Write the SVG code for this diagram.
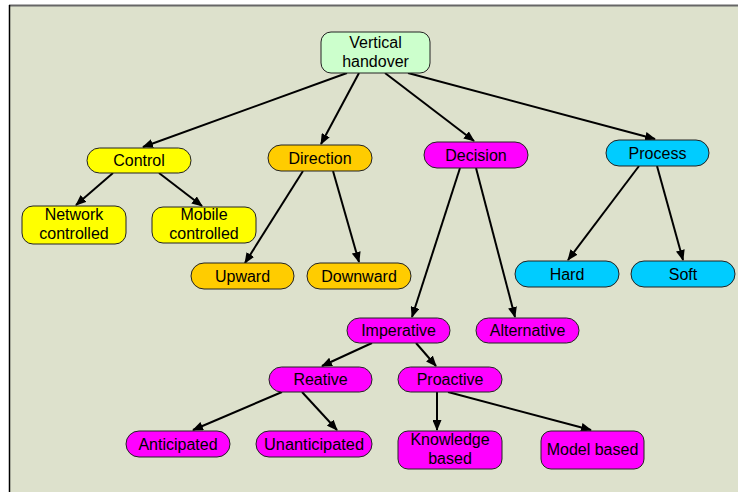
<svg xmlns="http://www.w3.org/2000/svg" width="738" height="492" viewBox="0 0 738 492">
<defs>
<marker id="ah" markerWidth="11" markerHeight="9" refX="10" refY="4.5" orient="auto" markerUnits="userSpaceOnUse">
<path d="M0,0 L11,4.5 L0,9 z" fill="#000"/>
</marker>
<style>
.n rect{stroke:#222;stroke-width:1}
.n text{font-family:"Liberation Sans",Arial,sans-serif;font-size:16px;fill:#000;text-anchor:middle}
.g{fill:#CCFFCC}.y{fill:#FFFF00}.o{fill:#FFCC00}.m{fill:#FF00FF}.c{fill:#00CCFF}
#edges line{stroke:#000;stroke-width:2;marker-end:url(#ah)}
</style>
</defs>
<rect x="0" y="0" width="738" height="492" fill="#fff"/>
<rect x="10" y="6" width="728" height="486" fill="#DDE1CC"/>
<line x1="9" y1="5.5" x2="738" y2="5.5" stroke="#666" stroke-width="2"/>
<line x1="9.5" y1="5" x2="9.5" y2="492" stroke="#000" stroke-width="1.5"/>
<g id="edges">
<line x1="347" y1="73" x2="143" y2="147"/>
<line x1="359" y1="73" x2="321" y2="144"/>
<line x1="385" y1="73" x2="474" y2="141"/>
<line x1="408" y1="73" x2="655" y2="139"/>
<line x1="113" y1="173" x2="76" y2="205"/>
<line x1="159" y1="173" x2="202" y2="206"/>
<line x1="303" y1="171" x2="245" y2="263"/>
<line x1="333" y1="171" x2="359" y2="262"/>
<line x1="460" y1="168" x2="412" y2="317"/>
<line x1="476" y1="168" x2="515" y2="317"/>
<line x1="639" y1="166" x2="568" y2="260"/>
<line x1="657" y1="166" x2="683" y2="260"/>
<line x1="372" y1="343" x2="322" y2="366"/>
<line x1="416" y1="343" x2="436" y2="366"/>
<line x1="282" y1="392" x2="193" y2="430"/>
<line x1="302" y1="392" x2="337" y2="430"/>
<line x1="437" y1="392" x2="437" y2="430"/>
<line x1="448" y1="392" x2="591" y2="430"/>
</g>
<g id="vertical-handover" class="n"><rect class="g" x="321" y="32" width="109" height="41" rx="10"/><text x="375.5" y="48">Vertical</text><text x="375.5" y="67">handover</text></g>
<g id="control" class="n"><rect class="y" x="87" y="148" width="104" height="25" rx="12.5"/><text x="139" y="165.5">Control</text></g>
<g id="direction" class="n"><rect class="o" x="268" y="145" width="104" height="26" rx="13"/><text x="320" y="163.5">Direction</text></g>
<g id="decision" class="n"><rect class="m" x="424" y="142" width="104" height="26" rx="13"/><text x="476" y="160.5">Decision</text></g>
<g id="process" class="n"><rect class="c" x="606" y="140" width="103" height="26" rx="13"/><text x="657.5" y="158.5">Process</text></g>
<g id="network-controlled" class="n"><rect class="y" x="22" y="206" width="104" height="38" rx="11"/><text x="74" y="220">Network</text><text x="74" y="239">controlled</text></g>
<g id="mobile-controlled" class="n"><rect class="y" x="152" y="207" width="104" height="36" rx="11"/><text x="204" y="220">Mobile</text><text x="204" y="239">controlled</text></g>
<g id="upward" class="n"><rect class="o" x="191" y="263" width="103" height="26" rx="13"/><text x="242.5" y="281.5">Upward</text></g>
<g id="downward" class="n"><rect class="o" x="307" y="263" width="104" height="26" rx="13"/><text x="359" y="281.5">Downward</text></g>
<g id="hard" class="n"><rect class="c" x="515" y="261" width="104" height="26" rx="13"/><text x="567" y="279.5">Hard</text></g>
<g id="soft" class="n"><rect class="c" x="631" y="261" width="104" height="26" rx="13"/><text x="683" y="279.5">Soft</text></g>
<g id="imperative" class="n"><rect class="m" x="347" y="318" width="103" height="25" rx="12.5"/><text x="398.5" y="335.5">Imperative</text></g>
<g id="alternative" class="n"><rect class="m" x="476" y="318" width="103" height="25" rx="12.5"/><text x="527.5" y="335.5">Alternative</text></g>
<g id="reative" class="n"><rect class="m" x="269" y="367" width="103" height="25" rx="12.5"/><text x="320.5" y="384.5">Reative</text></g>
<g id="proactive" class="n"><rect class="m" x="398" y="367" width="104" height="25" rx="12.5"/><text x="450" y="384.5">Proactive</text></g>
<g id="anticipated" class="n"><rect class="m" x="126" y="431" width="104" height="26" rx="13"/><text x="178" y="449.5">Anticipated</text></g>
<g id="unanticipated" class="n"><rect class="m" x="256" y="431" width="116" height="26" rx="13"/><text x="314" y="449.5" textLength="100" lengthAdjust="spacingAndGlyphs">Unanticipated</text></g>
<g id="knowledge-based" class="n"><rect class="m" x="398" y="431" width="104" height="38" rx="10"/><text x="450" y="445">Knowledge</text><text x="450" y="464">based</text></g>
<g id="model-based" class="n"><rect class="m" x="541" y="431" width="103" height="38" rx="10"/><text x="592.5" y="455">Model based</text></g>
</svg>
